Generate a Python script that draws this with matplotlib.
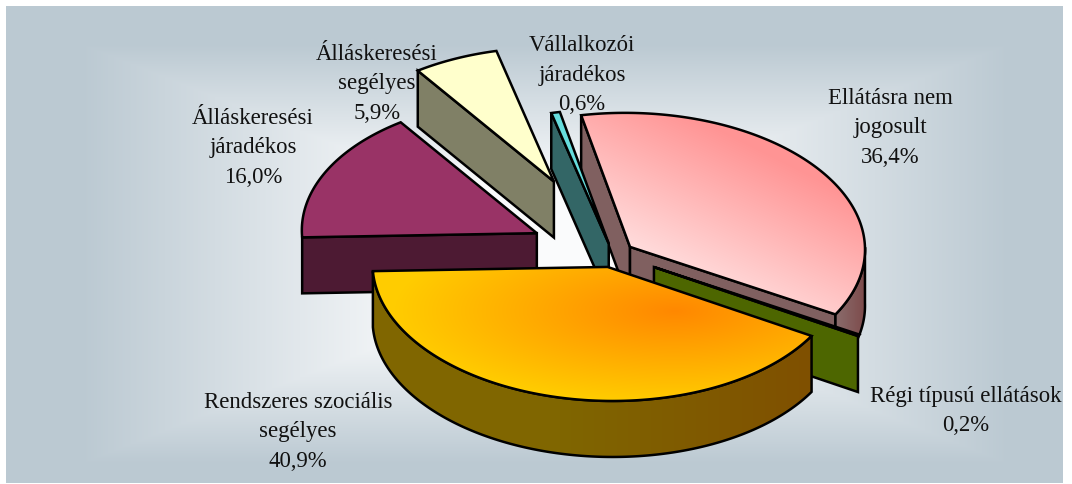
import numpy as np
import matplotlib
matplotlib.use("Agg")
import matplotlib.pyplot as plt
from matplotlib.patches import Polygon

# ---- data ----
categories = ["Ellátásra nem\njogosult", "Régi típusú ellátások", "Rendszeres szociális\nsegélyes",
              "Álláskeresési\njáradékos", "Álláskeresési\nsegélyes", "Vállalkozói\njáradékos"]
values = [36.4, 0.2, 40.9, 16.0, 5.9, 0.6]
value_labels = ["36,4%", "0,2%", "40,9%", "16,0%", "5,9%", "0,6%"]
explode = [0.09, 0.2, 0.10, 0.36, 0.6, 0.08]

# ---- styles ----
W, H = 1072, 485
CX, CY, RX, RY, DEPTH = 613.0, 255.0, 235.0, 134.0, 56.0
TILT = 0.012
START = 102.0
LW = 1.8
label_pos = [(890, 128), (966, 411), (298, 432), (253, 148), (377, 84), (582, 75)]
FONT = "Liberation Serif"
FS = 16.4

fig = plt.figure(figsize=(W / 100, H / 100), dpi=100, facecolor="white")
ax = fig.add_axes([0, 0, 1, 1])
ax.axis("off")

xx, yy = np.meshgrid(np.arange(W) + 0.5, np.arange(H) + 0.5)


def lerp(c0, c1, t):
    c0, c1 = np.array(matplotlib.colors.to_rgb(c0)), np.array(matplotlib.colors.to_rgb(c1))
    t = np.clip(t, 0, 1)[..., None]
    return c0 * (1 - t) + c1 * t


def grad_fill(pts, img, z):
    im = ax.imshow(img, extent=(0, W, H, 0), zorder=z, interpolation="bilinear", aspect="auto")
    poly = Polygon(pts, closed=True, transform=ax.transData, fc="none", ec="none")
    ax.add_patch(poly)
    im.set_clip_path(poly)
    ax.add_patch(Polygon(pts, closed=True, fc="none", ec="black", lw=LW, zorder=z + 0.01, joinstyle="miter"))


def flat_fill(pts, color, z):
    ax.add_patch(Polygon(pts, closed=True, fc=color, ec="black", lw=LW, zorder=z, joinstyle="miter"))


# background: rectangular gradient panel
t = np.maximum((np.abs(xx - 545) - 110) / 355, (np.abs(yy - 255) - 70) / 140)
bg = lerp("#FAFBFC", "#BBC9D2", t)
bg_im = ax.imshow(bg, extent=(0, W, H, 0), zorder=0, aspect="auto")
panel = Polygon([(6, 7), (1062.5, 7), (1062.5, 484), (6, 484)], closed=True, fc="none", ec="none")
ax.add_patch(panel)
bg_im.set_clip_path(panel)

# angle bookkeeping
vals = np.array(values, dtype=float)
ends = START - np.cumsum(vals) / vals.sum() * 360
starts = np.concatenate([[START], ends[:-1]])


def slice_geom(i):
    mid = np.radians((starts[i] + ends[i]) / 2)
    ax_c = CX + explode[i] * RX * np.cos(mid)
    ay_c = CY - explode[i] * 133.0 * np.sin(mid)
    th = np.radians(np.linspace(starts[i], ends[i], max(3, int(abs(starts[i] - ends[i]) * 2))))
    dx = RX * np.cos(th)
    rim = np.column_stack([ax_c + dx, ay_c - RY * np.sin(th) + TILT * dx])
    return np.array([ax_c, ay_c]), rim, th


def down(p):
    return np.asarray(p) + np.array([0, DEPTH])


def side_faces(i):
    apex, rim, th = slice_geom(i)
    first = np.array([apex, rim[0], down(rim[0]), down(apex)])
    last = np.array([apex, rim[-1], down(rim[-1]), down(apex)])
    return apex, rim, th, first, last


def top(apex, rim):
    return np.vstack([[apex], rim])


def outer_wall(rim, th):
    vis = rim[np.sin(th) <= 0.02]
    return np.vstack([vis, down(vis)[::-1]])


ELL, REG, REN, JAR, SEG, VAL = range(6)

# Álláskeresési segélyes
a, r, th, f, l = side_faces(SEG)
flat_fill(f, "#808066", 2)
flat_fill(top(a, r), "#FFFFCC", 2.1)

# Álláskeresési járadékos
a, r, th, f, l = side_faces(JAR)
flat_fill(f, "#4D1A33", 2.2)
flat_fill(top(a, r), "#993366", 2.3)

# Ellátásra nem jogosult
a, r, th, f, l = side_faces(ELL)
flat_fill(f, "#806060", 3)
flat_fill(l, "#806060", 3.1)
wall = outer_wall(r, th)
wall_img = lerp("#8A6C6C", "#7D4A4A", (xx - 836) / 30)
grad_fill(wall, wall_img, 3.2)
top_img = lerp("#FF9494", "#FFDEDE", ((xx - 760) * -0.45 + (yy - 150) * 0.9) / 150)
grad_fill(top(a, r), top_img, 3.3)

# Vállalkozói járadékos
a, r, th, f, l = side_faces(VAL)
flat_fill(f, "#336666", 4)
flat_fill(top(a, r), "#66DDDD", 4.1)

# Régi típusú ellátások
a, r, th, f, l = side_faces(REG)
flat_fill(l, "#4D6600", 5)
flat_fill(top(a, r), "#99CC00", 5.1)

# Rendszeres szociális segélyes
a, r, th, f, l = side_faces(REN)
wall = outer_wall(r, th)
wall_img = lerp("#806600", "#7F5000", (xx - 560) / 250)
grad_fill(wall, wall_img, 6)
top_t = np.sqrt(((xx - 675) / 280) ** 2 + ((yy - 312) / 92) ** 2)
grad_fill(top(a, r), lerp("#FF8800", "#FFCC00", top_t), 6.1)

# labels
for (x, y), cat, vl in zip(label_pos, categories, value_labels):
    ax.text(x, y, f"{cat}\n{vl}", ha="center", va="center", multialignment="center",
            family=FONT, fontsize=FS, color="#111111", linespacing=1.56, zorder=10,
            clip_on=True, clip_path=panel)

ax.set_xlim(0, W)
ax.set_ylim(H, 0)
fig.savefig("out.png", dpi=100, facecolor="white")
